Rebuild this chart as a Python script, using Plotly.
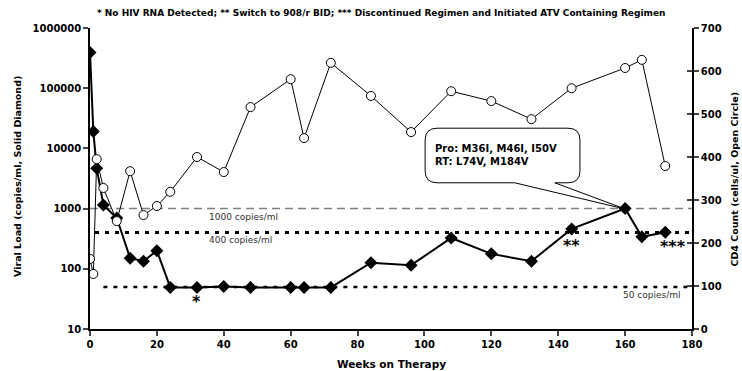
import plotly.graph_objects as go

# ---- data ----
vl_weeks = [0, 1, 2, 4, 8, 12, 16, 20, 24, 32, 40, 48, 60, 64, 72, 84, 96, 108, 120, 132, 144, 160, 165, 172]
vl_values = [390000, 19000, 4700, 1150, 700, 150, 134, 200, 49, 49, 51, 49, 49, 49, 49, 126, 115, 325, 177, 134, 460, 1000, 340, 405]

cd4_weeks = [0, 1, 2, 4, 8, 12, 16, 20, 24, 32, 40, 48, 60, 64, 72, 84, 96, 108, 120, 132, 144, 160, 165, 172]
cd4_values = [163, 128, 395, 328, 251, 367, 265, 286, 319, 400, 365, 516, 581, 444, 619, 542, 458, 553, 530, 488, 560, 607, 626, 379]

ref_levels = [1000, 400, 50]
ref_labels = ["1000 copies/ml", "400 copies/ml", "50 copies/ml"]
ref_start = [0, 1.5, 4]
ref_end = [180, 180, 180]

x_ticks = [0, 20, 40, 60, 80, 100, 120, 140, 160, 180]
vl_ticks = [10, 100, 1000, 10000, 100000, 1000000]
cd4_ticks = [0, 100, 200, 300, 400, 500, 600, 700]

title_text = ("* No HIV RNA Detected; ** Switch to 908/r BID; *** Discontinued Regimen "
              "and Initiated ATV Containing Regimen")
callout_text = "Pro: M36I, M46I, I50V<br>RT: L74V, M184V"

FONT = "'DejaVu Sans', Verdana, sans-serif"

fig = go.Figure()

# reference lines
ref_styles = [
    dict(color="#808080", width=1.5, dash="8px,5px"),
    dict(color="black", width=3, dash="4px,6px"),
    dict(color="black", width=2.5, dash="4px,6px"),
]
for lvl, s, e, st in zip(ref_levels, ref_start, ref_end, ref_styles):
    fig.add_trace(go.Scatter(x=[s, e], y=[lvl, lvl], mode="lines", line=st,
                             yaxis="y", showlegend=False, hoverinfo="skip"))

# viral load
fig.add_trace(go.Scatter(x=vl_weeks, y=vl_values, mode="lines+markers",
                         line=dict(color="black", width=2),
                         marker=dict(symbol="diamond", size=10, color="black"),
                         yaxis="y", showlegend=False))

# CD4
fig.add_trace(go.Scatter(x=cd4_weeks, y=cd4_values, mode="lines+markers",
                         line=dict(color="black", width=1),
                         marker=dict(symbol="circle", size=9, color="white",
                                     line=dict(color="black", width=1)),
                         yaxis="y2", showlegend=False))

# callout shape (in x / y2 coords)
L, R, T, B = 100.2, 146.5, 467, 340
rx, ry = 3.6, 28
t1, t2 = 127, 139
tipx, tipy = 160, 279
path = (f"M {L+rx},{T} L {R-rx},{T} Q {R},{T} {R},{T-ry} L {R},{B+ry} Q {R},{B} {R-rx},{B} "
        f"L {t2},{B} L {tipx},{tipy} L {t1},{B} L {L+rx},{B} Q {L},{B} {L},{B+ry} "
        f"L {L},{T-ry} Q {L},{T} {L+rx},{T} Z")
fig.add_shape(type="path", path=path, xref="x", yref="y2",
              line=dict(color="black", width=1), fillcolor="white", layer="above")

annotations = [
    dict(text=callout_text, x=102.6, y=405, xref="x", yref="y2", xanchor="left", yanchor="middle",
         showarrow=False, align="left", font=dict(family=FONT, size=10, color="black", weight="bold")),
    dict(text=ref_labels[0], x=35, y=260, xref="x", yref="y2", xanchor="left", yanchor="middle",
         showarrow=False, font=dict(family=FONT, size=9, color="#333333")),
    dict(text=ref_labels[1], x=35, y=207, xref="x", yref="y2", xanchor="left", yanchor="middle",
         showarrow=False, font=dict(family=FONT, size=9, color="#333333")),
    dict(text=ref_labels[2], x=158.8, y=79, xref="x", yref="y2", xanchor="left", yanchor="middle",
         showarrow=False, font=dict(family=FONT, size=9, color="#333333")),
    dict(text="*", x=31.7, y=64, xref="x", yref="y2", showarrow=False,
         font=dict(family=FONT, size=16, color="black", weight="bold")),
    dict(text="**", x=144, y=194, xref="x", yref="y2", showarrow=False,
         font=dict(family=FONT, size=16, color="black", weight="bold")),
    dict(text="***", x=174.3, y=191, xref="x", yref="y2", showarrow=False,
         font=dict(family=FONT, size=16, color="black", weight="bold")),
    dict(text=title_text, x=0.483, y=1.05, xref="paper", yref="paper", yanchor="middle", showarrow=False,
         font=dict(family=FONT, size=9, color="black", weight="bold")),
    dict(text="Viral Load (copies/ml, Solid Diamond)", x=-0.1196, y=0.505, xref="paper", yref="paper",
         xanchor="center", yanchor="middle",
         textangle=-90, showarrow=False, font=dict(family=FONT, size=9.5, color="black", weight="bold")),
    dict(text="CD4 Count (cells/ul, Open Circle)", x=1.0714, y=0.5, xref="paper", yref="paper",
         xanchor="center", yanchor="middle",
         textangle=-90, showarrow=False, font=dict(family=FONT, size=9.5, color="black", weight="bold")),
    dict(text="Weeks on Therapy", x=0.5, y=-0.116, xref="paper", yref="paper", yanchor="middle",
         showarrow=False, font=dict(family=FONT, size=10.5, color="black", weight="bold")),
]

tickfont = dict(family=FONT, size=10, color="black", weight="bold")
fig.update_layout(
    width=742, height=371,
    margin=dict(l=90, r=50, t=28, b=42),
    paper_bgcolor="white", plot_bgcolor="white",
    showlegend=False,
    annotations=annotations,
    xaxis=dict(range=[0, 180], tickvals=x_ticks, ticks="outside", ticklen=5, tickwidth=1.5,
               showline=True, linecolor="black", linewidth=1.5, showgrid=False, zeroline=False,
               tickfont=tickfont),
    yaxis=dict(type="log", range=[1, 6], tickvals=vl_ticks, ticktext=[str(v) for v in vl_ticks],
               ticks="outside", ticklen=5, tickwidth=1.5, showline=True, linecolor="black",
               linewidth=1.5, showgrid=False, zeroline=False, tickfont=tickfont),
    yaxis2=dict(range=[0, 700], tickvals=cd4_ticks, overlaying="y", side="right", anchor="x",
                ticks="outside", ticklen=5, tickwidth=1.5, showline=True, linecolor="black",
                linewidth=1.5, showgrid=False, zeroline=False, tickfont=tickfont),
    yaxis3=dict(range=[0, 700], tickvals=cd4_ticks, overlaying="y", side="right", anchor="x",
                ticks="inside", ticklen=5, tickwidth=1.5, showticklabels=False, showline=False,
                showgrid=False, zeroline=False),
)
fig.add_trace(go.Scatter(x=[None], y=[None], yaxis="y3", showlegend=False, hoverinfo="skip"))

fig.write_html("out.html")
